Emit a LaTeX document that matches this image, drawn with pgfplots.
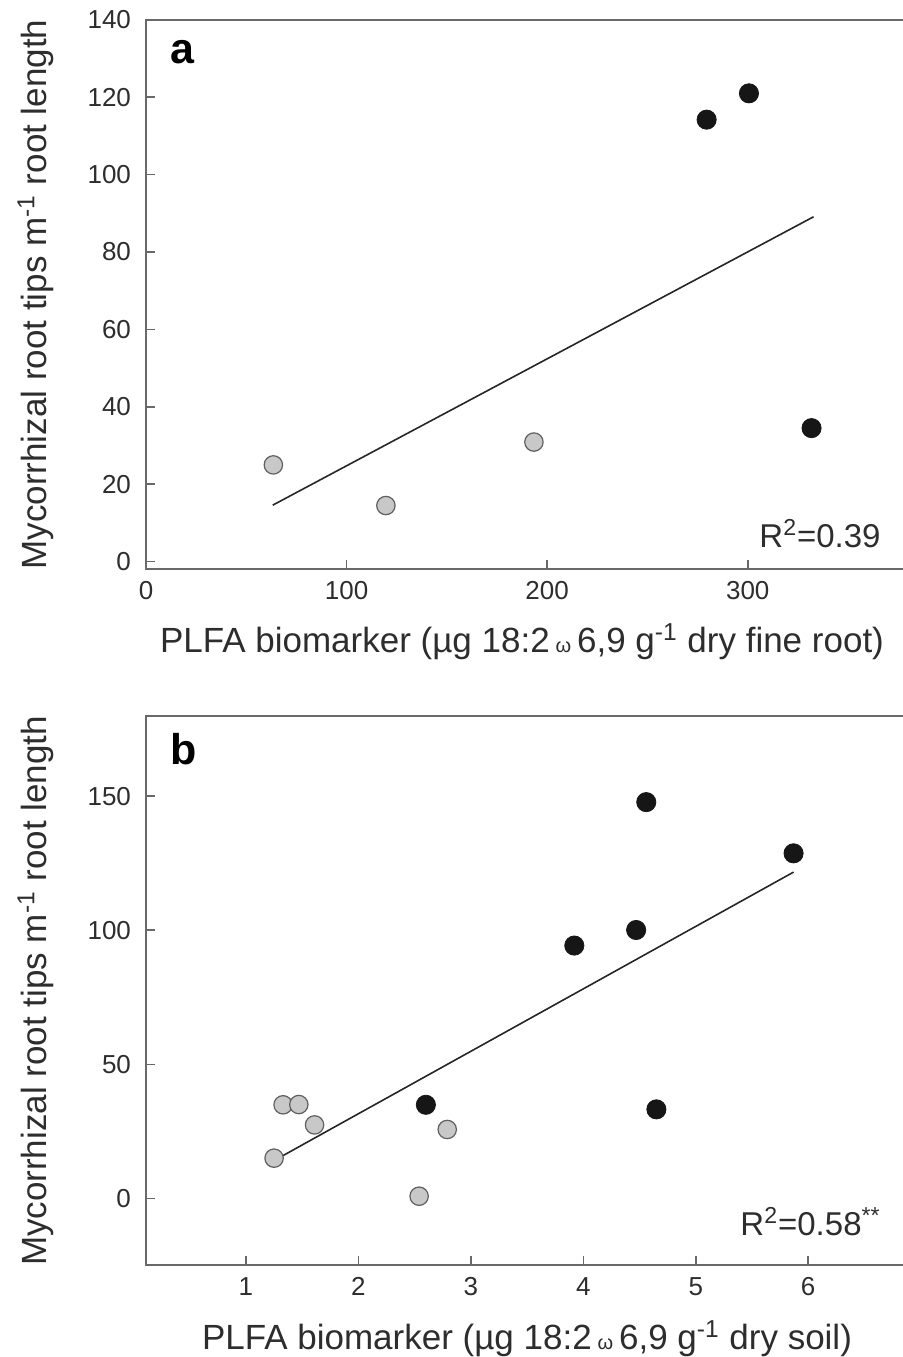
\documentclass[border=0pt]{standalone}
\usepackage{fontspec}
\setmainfont{Liberation Sans}
\usepackage{pgfplots}
\pgfplotsset{compat=1.18}

\definecolor{axisgray}{RGB}{105,105,105}
\definecolor{txt}{RGB}{45,45,45}
\definecolor{dotgray}{RGB}{200,200,200}
\definecolor{dotedge}{RGB}{95,95,95}
\definecolor{dotblack}{RGB}{22,22,22}

\pgfplotsset{
  panel/.style={
    scale only axis, width=379pt, height=274.8pt, anchor=south west,
    axis line style={axisgray, line width=1pt},
    tick style={axisgray, line width=0.8pt},
    major tick length=4.5pt, tick align=inside,
    xtick pos=bottom, ytick pos=left,
    /pgf/number format/assume math mode=true,
    ticklabel style={font=\fontsize{13}{13}\selectfont, text=txt},
    yticklabel style={xshift=-4pt},
    xticklabel style={yshift=-2.5pt},
  },
  gdot/.style={only marks, mark=*, mark size=4.6pt,
    mark options={fill=dotgray, draw=dotedge, line width=0.6pt}},
  bdot/.style={only marks, mark=*, mark size=4.8pt,
    mark options={fill=dotblack, draw=dotblack}},
  fit/.style={no marks, line width=0.8pt, color=black!85},
}

\newcommand{\lblfont}{\fontsize{17.5}{17.5}\selectfont\color{txt}}
\newcommand{\om}{{\fontsize{10}{10}\selectfont ω}}

\begin{document}
\begin{tikzpicture}
\useasboundingbox (0,0) rectangle (451pt,678.5pt);

% panel a
\begin{axis}[panel, at={(73pt,393.8pt)},
  xmin=0, xmax=377.9, ymin=-2, ymax=140,
  xtick={0,100,200,300}, ytick={0,20,40,60,80,100,120,140}]
\addplot[fit] coordinates {(63.2,14.6) (332.8,89.1)};
\addplot[gdot] coordinates {(63.5,25.0) (119.6,14.5) (193.4,30.9)};
\addplot[bdot] coordinates {(279.5,114.2) (300.6,121.0) (331.8,34.5)};
\end{axis}

% panel b
\begin{axis}[panel, at={(73pt,45.8pt)},
  xmin=0.111, xmax=6.852, ymin=-25, ymax=180,
  xtick={1,2,3,4,5,6}, ytick={0,50,100,150}]
\addplot[fit] coordinates {(1.25,14.1) (5.87,121.7)};
\addplot[gdot] coordinates {(1.25,15.0) (1.33,34.9) (1.47,35.0) (1.61,27.4) (2.54,0.8) (2.79,25.7)};
\addplot[bdot] coordinates {(2.60,34.9) (3.92,94.3) (4.47,100.1) (4.56,147.8) (4.65,33.2) (5.87,128.7)};
\end{axis}

% panel letters
\node[anchor=base west, inner sep=0, font=\fontsize{21.5}{21.5}\selectfont\bfseries] at (85pt,646.9pt) {a};
\node[anchor=base west, inner sep=0, font=\fontsize{21.5}{21.5}\selectfont\bfseries] at (85pt,296pt) {b};

% R^2 annotations
\node[anchor=base east, inner sep=0, font=\fontsize{16.5}{16.5}\selectfont, text=txt] at (440.5pt,404.5pt) {R\textsuperscript{2}=0.39};
\node[anchor=base east, inner sep=0, font=\fontsize{16.5}{16.5}\selectfont, text=txt] at (440.5pt,60.7pt) {R\textsuperscript{2}=0.58\textsuperscript{**}};

% axis titles
\node[anchor=base, inner sep=0, rotate=90] at (23.5pt,531.2pt) {\lblfont Mycorrhizal root tips m\textsuperscript{-1} root length};
\node[anchor=base, inner sep=0, rotate=90] at (23.5pt,183pt) {\lblfont Mycorrhizal root tips m\textsuperscript{-1} root length};
\node[anchor=base, inner sep=0] at (261pt,352pt) {\lblfont PLFA biomarker (µg 18:2\,\om\,6,9 g\textsuperscript{-1} dry fine root)};
\node[anchor=base, inner sep=0] at (263.5pt,3.5pt) {\lblfont PLFA biomarker (µg 18:2\,\om\,6,9 g\textsuperscript{-1} dry soil)};
\end{tikzpicture}
\end{document}
